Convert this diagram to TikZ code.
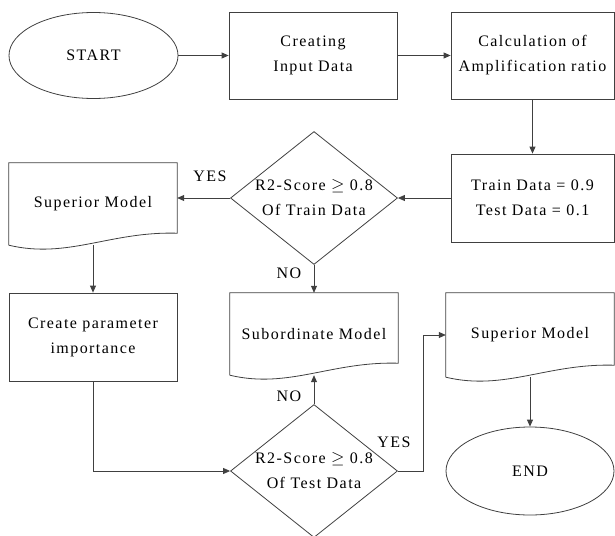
\documentclass[tikz,border=0pt]{standalone}
\usepackage{fontspec}
\setmainfont{Liberation Serif}[LetterSpace=9]
\usetikzlibrary{positioning, calc, shapes.geometric, arrows.meta}

\begin{document}
\begin{tikzpicture}[x=1pt, y=-1pt, font=\fontsize{16}{25}\selectfont,
  line/.style={draw=black!75, line width=0.8pt},
  arr/.style={line, -{Triangle[length=7pt, width=6pt]}},
  box/.style={line, rectangle, align=center, inner sep=2pt},
  oval/.style={line, ellipse, inner sep=0pt},
  dia/.style={line, diamond, align=center, inner xsep=-30pt, inner ysep=-20pt,
    minimum width=167pt, minimum height=133pt},
  doc/.style={rectangle, align=center, inner sep=0pt, minimum width=168pt, minimum height=82pt},
  lbl/.style={inner sep=1pt}]
  \useasboundingbox (0,0) rectangle (615,535);

  % top row
  \node[oval, minimum width=169pt, minimum height=86pt] (start) at (93.5,55.5) {START};
  \node[box, minimum width=168pt, minimum height=87pt] (input) at (313,55.5) {Creating\\Input Data};
  \node[box, minimum width=163pt, minimum height=87pt] (ratio) at (532.5,55.5) {Calculation of\\Amplification ratio};

  % second row
  \node[box, minimum width=163pt, minimum height=88pt] (split) at (532.5,198) {Train Data = 0.9\\Test Data = 0.1};
  \node[dia] (train) at (314,198) {R2-Score $\geq$ 0.8\\Of Train Data};
  \node[doc] (supA) at (93,204) {Superior Model};

  % third row
  \node[box, minimum width=168pt, minimum height=88pt] (param) at (93,337) {Create parameter\\importance};
  \node[doc] (sub) at (314,334) {Subordinate Model};
  \node[doc, minimum height=84pt] (supB) at (530,335) {Superior Model};

  % bottom row
  \node[dia] (test) at (314,471) {R2-Score $\geq$ 0.8\\Of Test Data};
  \node[oval, minimum width=168pt, minimum height=88pt] (finish) at (530,471) {END};

  % document outlines, wavy bottom
  \foreach \n in {supA, sub, supB}
    \draw[line] (\n.south west) -- (\n.north west) -- (\n.north east) -- ([yshift=12pt]\n.south east)
      .. controls ([xshift=-67pt, yshift=14pt]\n.south east) and ([xshift=59pt, yshift=-14pt]\n.south west) .. (\n.south west);

  % labels
  \node[lbl] (yesA) at (210,176) {YES};
  \node[lbl] (noA) at (289,273) {NO};
  \node[lbl] (noB) at (289,396) {NO};
  \node[lbl] (yesB) at (394,442) {YES};

  % connectors
  \draw[arr] (start) -- (input);
  \draw[arr] (input) -- (ratio);
  \draw[arr] (ratio) -- (split);
  \draw[arr] (split) -- (train);
  \draw[arr] (train.west) -- (train.west -| supA.east);
  \draw[arr] (supA.south) -- (param);
  \draw[arr] (train) -- (sub);
  \draw[arr] (param.south) |- (test.west);
  \draw[arr] (test) -- (sub.south);
  \draw[arr] (test.east) -- ++(25,0) |- (supB.west);
  \draw[arr] (supB.south) -- (finish);
\end{tikzpicture}
\end{document}
